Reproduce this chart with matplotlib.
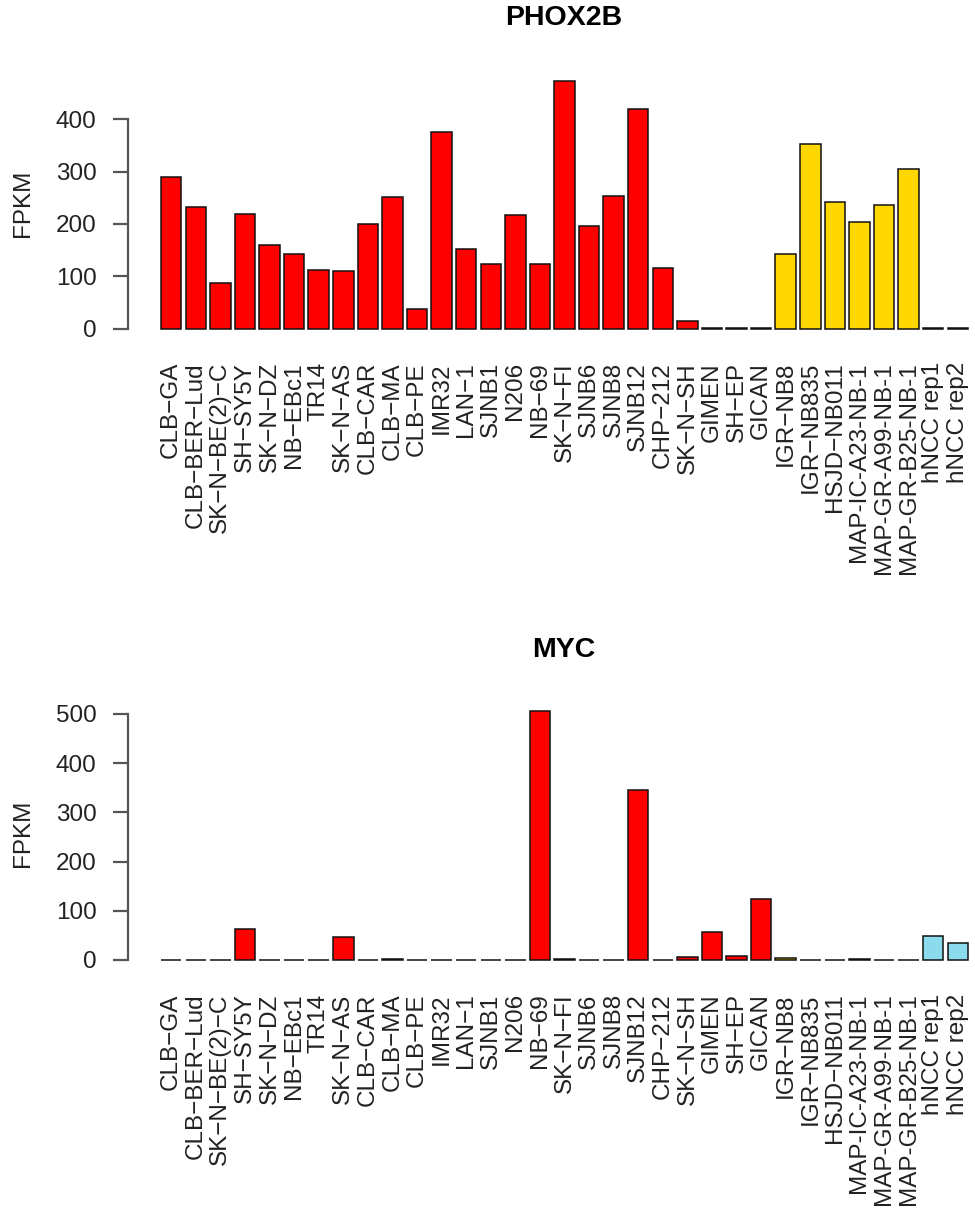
import matplotlib
matplotlib.use("Agg")
from matplotlib import pyplot as plt
import numpy as np

plt.rcParams['font.family'] = ['Liberation Sans', 'DejaVu Sans']

# sample names
samples = ["CLB-GA", "CLB-BER-Lud", "SK-N-BE(2)-C", "SH-SY5Y", "SK-N-DZ", "NB-EBc1",
           "TR14", "SK-N-AS", "CLB-CAR", "CLB-MA", "CLB-PE", "IMR32", "LAN-1", "SJNB1",
           "N206", "NB-69", "SK-N-FI", "SJNB6", "SJNB8", "SJNB12", "CHP-212", "SK-N-SH",
           "GIMEN", "SH-EP", "GICAN", "IGR-NB8", "IGR-NB835", "HSJD-NB011",
           "MAP-IC-A23-NB-1", "MAP-GR-A99-NB-1", "MAP-GR-B25-NB-1", "hNCC rep1", "hNCC rep2"]
# R draws most hyphens as minus signs, the MAP names keep plain hyphens
labels = [s if s.startswith("MAP") else s.replace("-", "\u2212") for s in samples]

# group of each sample: cell line / PDX / neural crest
groups = ["cell"] * 25 + ["pdx"] * 6 + ["hncc"] * 2
group_colors = {"cell": "#FF0000", "pdx": "#FFD700", "hncc": "#8ADBEB"}

phox2b = [290, 232, 88, 220, 159, 143, 113, 111, 200, 252, 37, 375, 152, 124,
          218, 123, 474, 197, 253, 419, 115, 15, 1, 1, 1,
          143, 352, 242, 204, 236, 305, 1, 1]
myc = [1, 0.5, 0.5, 63, 0.5, 0.5, 0.3, 47, 0.5, 3, 0.5, 0.5, 0.5, 0.5,
       0.3, 507, 3, 0.5, 0.3, 345, 0.5, 6, 57, 9, 123,
       4, 0.5, 0.5, 1.5, 0.5, 0.5, 49, 35]

W, H = 975, 1215
fig = plt.figure(figsize=(W / 100, H / 100), dpi=100)

x = 0.7 + 1.2 * np.arange(len(samples))
cols = [group_colors[g] for g in groups]


def panel(rect, vals, title, ymax, yticks, title_y):
    ax = fig.add_axes(rect)
    bars = ax.bar(x, vals, width=1.0, color=cols, edgecolor="#111111", linewidth=1.1)
    for b in bars:
        b.set_clip_on(False)
    ax.set_xlim(-1.41, 39.94)
    ax.set_ylim(0, ymax)
    for s in ["top", "right", "bottom"]:
        ax.spines[s].set_visible(False)
    ax.spines["left"].set_bounds(yticks[0], yticks[-1])
    ax.spines["left"].set_color("#555555")
    ax.spines["left"].set_linewidth(1.6)
    ax.set_yticks(yticks)
    ax.set_yticklabels([str(t) for t in yticks])
    ax.tick_params(axis="y", length=11, width=1.6, color="#555555", pad=11.5,
                   labelsize=17.5, labelcolor="#222222")
    ax.set_xticks(x)
    ax.set_xticklabels(labels, rotation=90, fontsize=17.5, color="#222222", va="top")
    ax.tick_params(axis="x", length=0, pad=24)
    ax.set_ylabel("FPKM", fontsize=17.5, color="#222222", labelpad=16)
    fig.text(564 / W, 1 - title_y / H, title, ha="center", va="center",
             fontsize=20.5, fontweight="bold")
    return ax


ax1 = panel([128 / W, 1 - 328.7 / H, (975 - 128) / W, 480 * 0.5235 / H],
            phox2b, "PHOX2B", 480, [0, 100, 200, 300, 400], 18)
ax2 = panel([128 / W, 1 - 960 / H, (975 - 128) / W, 515 * 0.492 / H],
            myc, "MYC", 515, [0, 100, 200, 300, 400, 500], 650)

plt.savefig("out.png", dpi=100)
